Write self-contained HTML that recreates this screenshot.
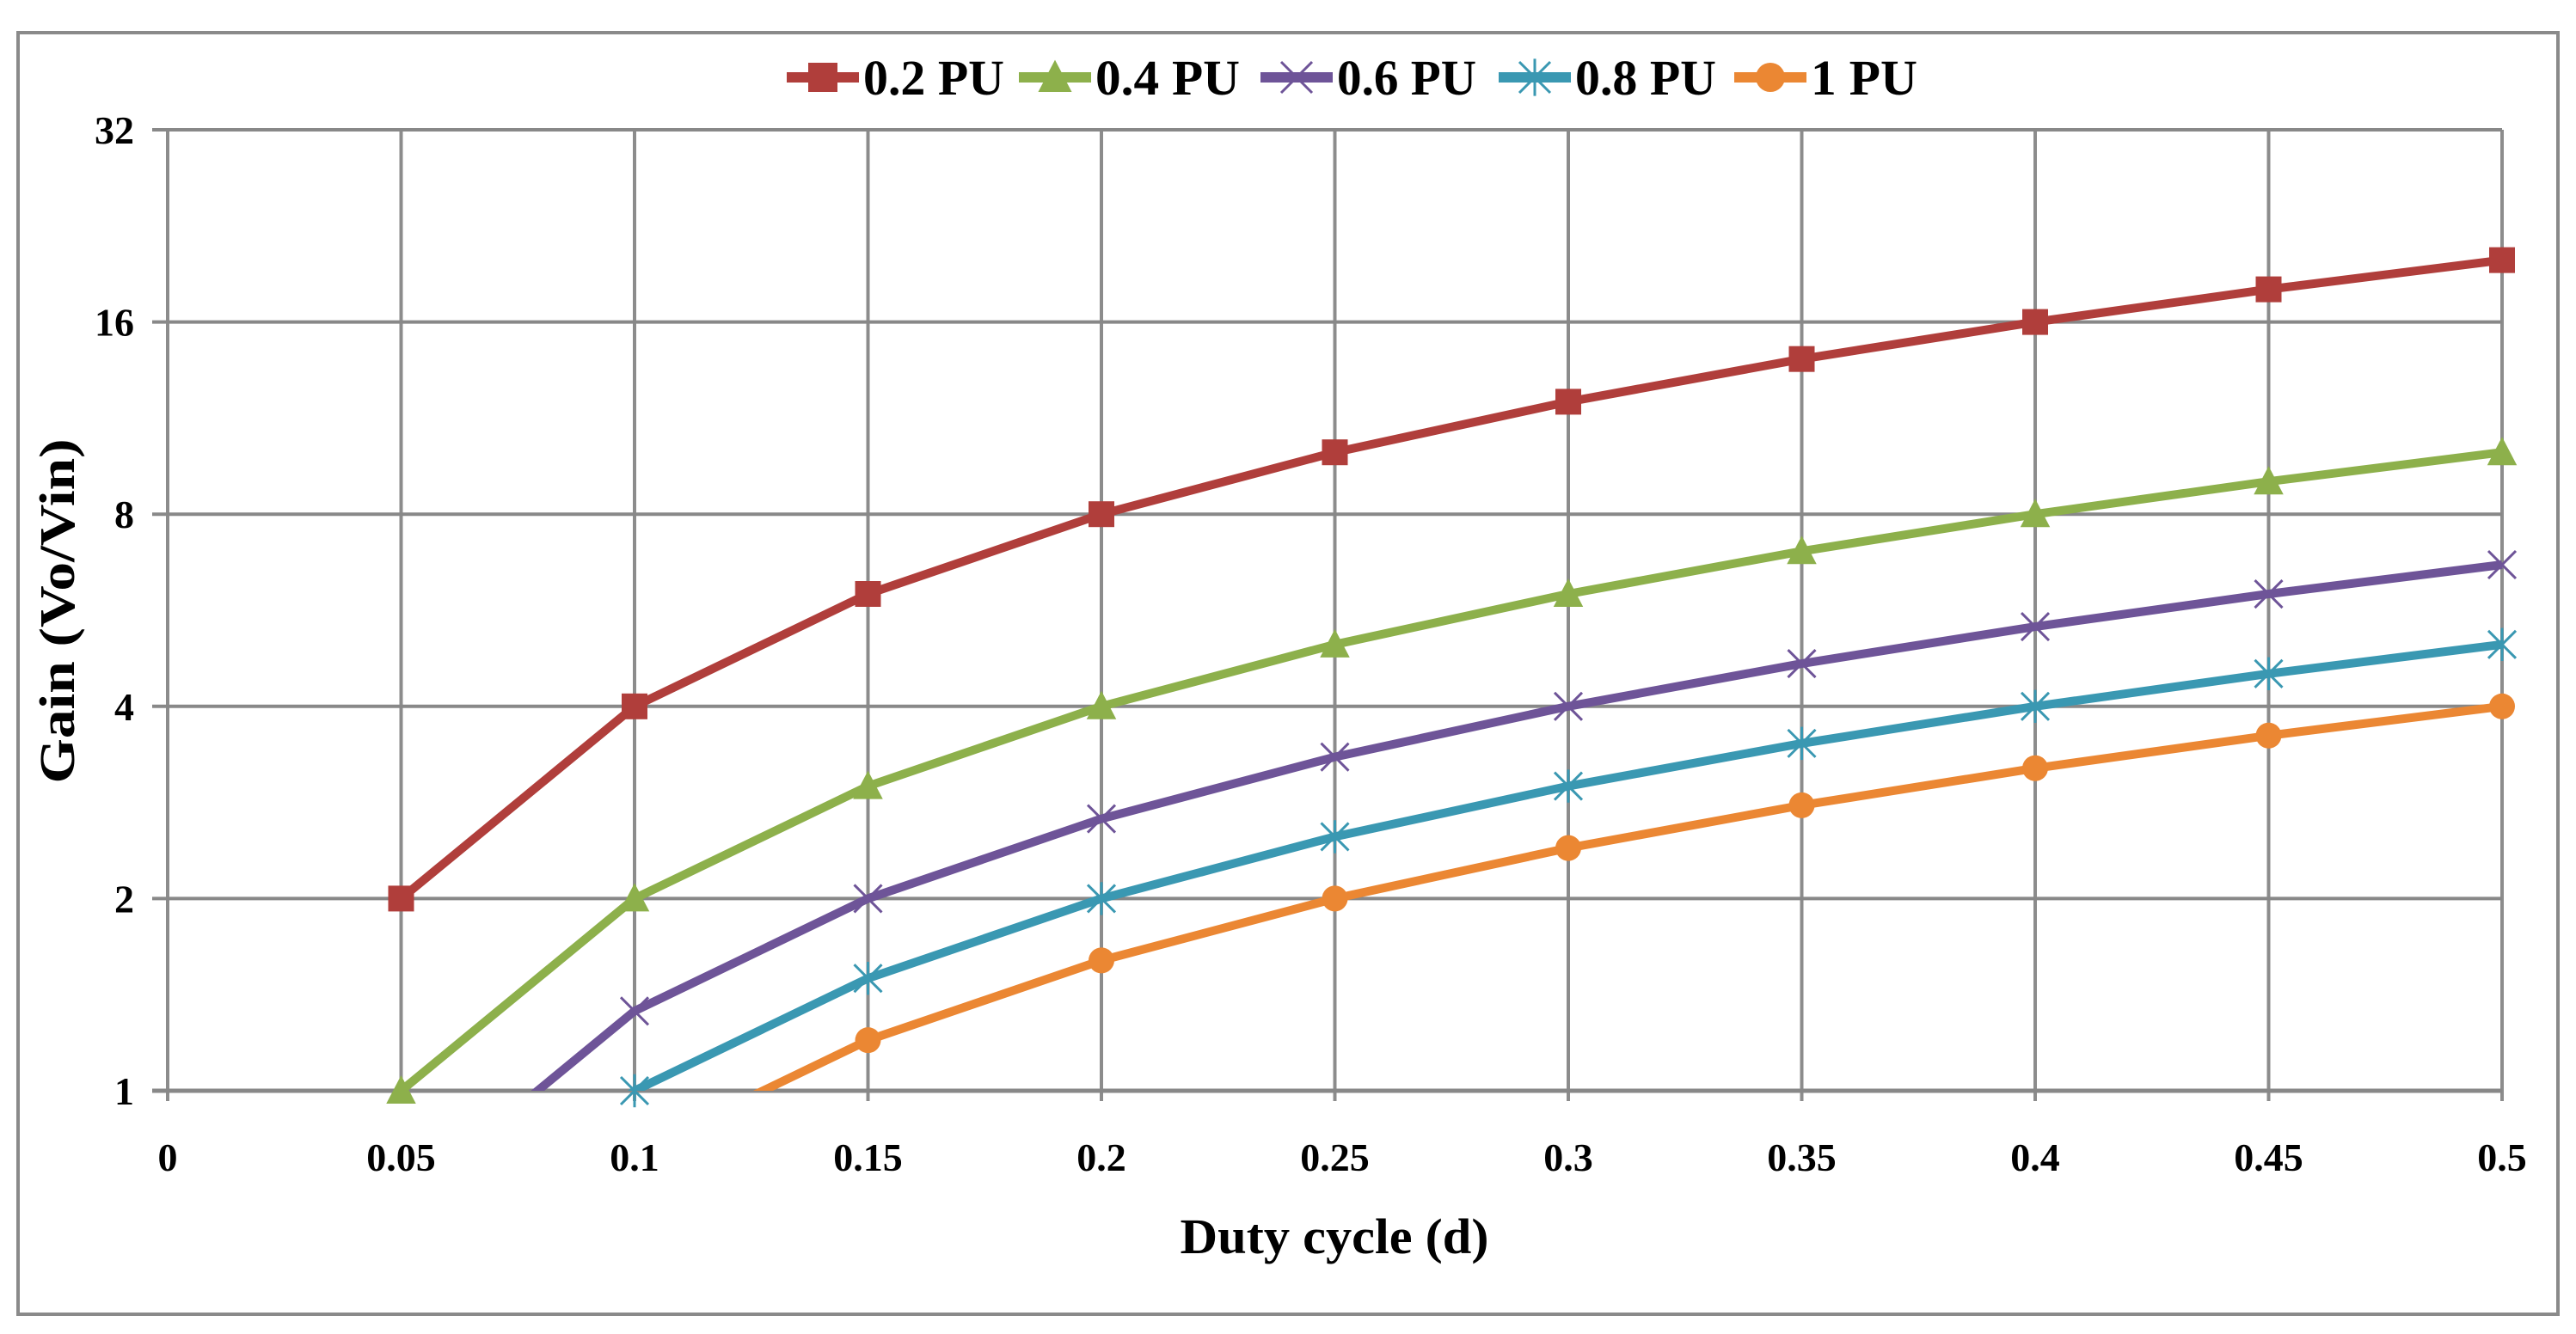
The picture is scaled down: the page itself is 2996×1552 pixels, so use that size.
<!DOCTYPE html>
<html><head><meta charset="utf-8"><style>
html,body{margin:0;padding:0;background:#fff;}
svg{display:block;}
text{font-family:"Liberation Serif",serif;font-weight:bold;fill:#000;}
</style></head><body>
<svg id="chart" width="2996" height="1552" viewBox="0 0 2996 1552" xmlns="http://www.w3.org/2000/svg">
<rect x="21" y="38" width="2954" height="1491" fill="#fff" stroke="#8a8a8a" stroke-width="4"/>
<defs><clipPath id="plotclip"><rect x="195" y="140" width="2725" height="1129"/></clipPath></defs>
<g id="grid"></g>
<g id="series" clip-path="url(#plotclip)"></g>
<g id="markers"></g>
<g id="axes"></g>
<g id="legend"></g>
<text x="0" y="0" font-size="58" text-anchor="middle" textLength="401" lengthAdjust="spacingAndGlyphs" transform="translate(86,711) rotate(-90)">Gain (Vo/Vin)</text>
<text x="1552" y="1458" font-size="58" text-anchor="middle" textLength="359" lengthAdjust="spacingAndGlyphs">Duty cycle (d)</text>
</svg>
<script>
const xCategories = [0.05,0.1,0.15,0.2,0.25,0.3,0.35,0.4,0.45,0.5];
const s02 = [2,4,6,8,10,12,14,16,18,20];
const s04 = [1,2,3,4,5,6,7,8,9,10];
const s06 = [0.667,1.333,2,2.667,3.333,4,4.667,5.333,6,6.667];
const s08 = [0.5,1,1.5,2,2.5,3,3.5,4,4.5,5];
const s10 = [0.4,0.8,1.2,1.6,2,2.4,2.8,3.2,3.6,4];
const seriesNames = ["0.2 PU","0.4 PU","0.6 PU","0.8 PU","1 PU"];
const xTicks = [0,0.05,0.1,0.15,0.2,0.25,0.3,0.35,0.4,0.45,0.5];
const xTickLabels = ["0","0.05","0.1","0.15","0.2","0.25","0.3","0.35","0.4","0.45","0.5"];
const yTicks = [1,2,4,8,16,32];

const NS="http://www.w3.org/2000/svg";
const X0=195,X1=2910,Y32=151,Y1=1269;
function xs(v){return X0+(v-0)/(0.5-0)*(X1-X0);}
function ys(v){return Y1-(Math.log2(v)/5)*(Y1-Y32);}
function mk(tag,attrs,parent){const e=document.createElementNS(NS,tag);for(const k in attrs)e.setAttribute(k,attrs[k]);parent.appendChild(e);return e;}
const grid=document.getElementById('grid'),axes=document.getElementById('axes'),ser=document.getElementById('series'),mkg=document.getElementById('markers'),leg=document.getElementById('legend');

xTicks.forEach((t,i)=>{
  const l=mk('line',{x1:xs(t),x2:xs(t),y1:Y32,y2:Y1+12,stroke:'#8c8c8c','stroke-width':4},grid);
  
  
  const tx=mk('text',{x:xs(t),y:1362,'font-size':46,'text-anchor':'middle'},axes);
  tx.textContent=xTickLabels[i];
  
  
});
yTicks.forEach(t=>{
  const l=mk('line',{x1:X0-18,x2:X1,y1:ys(t),y2:ys(t),stroke:'#888','stroke-width':t===1?5:4},grid);
  
  
  const tx=mk('text',{x:156,y:ys(t)+16,'font-size':46,'text-anchor':'end'},axes);
  tx.textContent=String(t);
  
  
});

const colors=['#B03E3B','#8DB04B','#6E5498','#3A98B2','#EB8733'];
const shapes=['square','triangle','x','star','circle'];
const allSeries=[s02,s04,s06,s08,s10];

function marker(g,shape,cx,cy,c,s){
  let e;
  if(shape==='square') e=mk('rect',{x:cx-s,y:cy-s,width:2*s,height:2*s,fill:c},g);
  else if(shape==='triangle') e=mk('polygon',{points:`${cx},${cy-s*1.2} ${cx+s*1.15},${cy+s} ${cx-s*1.15},${cy+s}`,fill:c},g);
  else if(shape==='circle') e=mk('circle',{cx:cx,cy:cy,r:s,fill:c},g);
  else if(shape==='x') e=mk('path',{d:`M${cx-s},${cy-s}L${cx+s},${cy+s}M${cx-s},${cy+s}L${cx+s},${cy-s}`,stroke:c,'stroke-width':3,fill:'none'},g);
  else e=mk('path',{d:`M${cx-s},${cy-s}L${cx+s},${cy+s}M${cx-s},${cy+s}L${cx+s},${cy-s}M${cx},${cy-s*1.2}L${cx},${cy+s*1.2}`,stroke:c,'stroke-width':3,fill:'none'},g);
  return e;
}

allSeries.forEach((data,si)=>{
  const pts=data.map((v,i)=>xs(xCategories[i])+','+ys(v)).join(' ');
  const pl=mk('polyline',{points:pts,fill:'none',stroke:colors[si],'stroke-width':10,'stroke-linejoin':'round'},ser);
  
  
  data.forEach((v,i)=>{
    if(v<0.99) return;
    const m=marker(mkg,shapes[si],xs(xCategories[i]),ys(v),colors[si],shapes[si]==='x'||shapes[si]==='star'?16:15);
    
    
  });
});

const legX=[915,1185,1466,1743,2017];
const legTextLen=[164,168,162,164,124];
seriesNames.forEach((n,si)=>{
  const g=mk('g',{},leg);
  
  
  mk('line',{x1:legX[si],x2:legX[si]+84,y1:90,y2:90,stroke:colors[si],'stroke-width':12},g);
  marker(g,shapes[si],legX[si]+42,90,colors[si],shapes[si]==='x'||shapes[si]==='star'?18:17);
  const t=mk('text',{x:legX[si]+89,y:110,'font-size':58,textLength:legTextLen[si],lengthAdjust:'spacingAndGlyphs'},g);
  t.textContent=n;
});
</script>
</body></html>
